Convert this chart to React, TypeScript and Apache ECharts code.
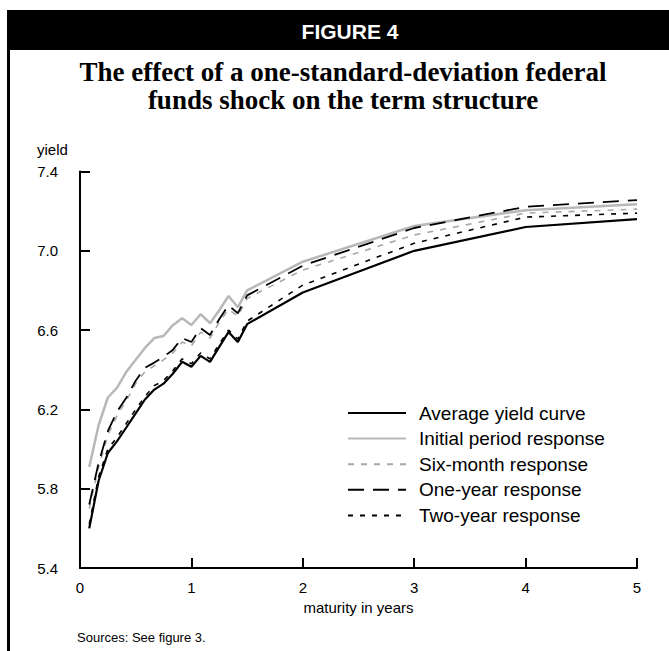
import React, { useEffect, useRef } from "react";
import * as echarts from "echarts";

// maturity in years (monthly to 18 months, then annual)
const maturities = [
  0.083, 0.167, 0.25, 0.333, 0.417, 0.5, 0.583, 0.667, 0.75, 0.833, 0.917, 1.0,
  1.083, 1.167, 1.25, 1.333, 1.417, 1.5, 2, 3, 4, 5,
];

const averageYield = [
  5.6, 5.84, 5.98, 6.04, 6.11, 6.18, 6.25, 6.3, 6.33, 6.38, 6.44, 6.415,
  6.47, 6.44, 6.515, 6.59, 6.54, 6.63, 6.79, 7.0, 7.12, 7.16,
];
const initialResponse = [
  5.91, 6.12, 6.26, 6.31, 6.39, 6.45, 6.51, 6.56, 6.57, 6.625, 6.66, 6.626,
  6.68, 6.635, 6.7, 6.772, 6.715, 6.8, 6.945, 7.125, 7.205, 7.235,
];
const sixMonthResponse = [
  5.7, 5.91, 6.07, 6.17, 6.245, 6.33, 6.39, 6.42, 6.45, 6.485, 6.54, 6.52,
  6.59, 6.56, 6.64, 6.705, 6.67, 6.76, 6.903, 7.08, 7.19, 7.21,
];
const oneYearResponse = [
  5.72, 5.93, 6.09, 6.19, 6.26, 6.345, 6.41, 6.436, 6.466, 6.5, 6.56, 6.54,
  6.61, 6.575, 6.655, 6.725, 6.685, 6.775, 6.925, 7.115, 7.222, 7.256,
];
const twoYearResponse = [
  5.62, 5.86, 6.0, 6.06, 6.13, 6.2, 6.265, 6.32, 6.345, 6.395, 6.455, 6.43,
  6.485, 6.455, 6.53, 6.6, 6.555, 6.645, 6.827, 7.038, 7.17, 7.19,
];

const seriesNames = [
  "Average yield curve",
  "Initial period response",
  "Six-month response",
  "One-year response",
  "Two-year response",
];

const xTickLabels = ["0", "1", "2", "3", "4", "5"];

const SANS = '"Liberation Sans", Arial, Helvetica, sans-serif';
const SERIF = '"Liberation Serif", "Times New Roman", Times, serif';

function pairs(values: number[]) {
  return maturities.map((m, i) => [m, values[i]]);
}

export default function App() {
  const ref = useRef<HTMLDivElement>(null);

  useEffect(() => {
    if (!ref.current) return;
    const chart = echarts.init(ref.current, undefined, { renderer: "svg" });

    const styles = [
      { color: "#000000", width: 2.2, type: "solid" as any },
      { color: "#b8b8b8", width: 2.5, type: "solid" as any },
      { color: "#a8a8a8", width: 1.6, type: [6, 7] as any },
      { color: "#000000", width: 1.8, type: [16, 9] as any },
      { color: "#000000", width: 1.6, type: [5, 7] as any },
    ];
    const dataSets = [
      averageYield,
      initialResponse,
      sixMonthResponse,
      oneYearResponse,
      twoYearResponse,
    ];
    // draw order: put average on top
    const order = [1, 2, 4, 3, 0];

    const series = order.map((i) => ({
      name: seriesNames[i],
      type: "line",
      data: pairs(dataSets[i]),
      symbol: "none",
      showSymbol: false,
      smooth: false,
      color: styles[i].color,
      itemStyle: { color: styles[i].color },
      lineStyle: {
        color: styles[i].color,
        width: styles[i].width,
        type: styles[i].type,
      },
      z: 2 + order.indexOf(i),
    }));

    chart.setOption({
      animation: false,
      backgroundColor: "#ffffff",
      grid: { left: 80, right: 32, top: 171.5, bottom: 83, containLabel: false },
      legend: {
        orient: "vertical",
        left: 347,
        top: 403,
        itemWidth: 58,
        itemHeight: 20,
        itemGap: 5.6,
        padding: 0,
        selectedMode: false,
        itemStyle: { opacity: 0 },
        data: seriesNames.map((n) => ({ name: n })),
        textStyle: {
          fontFamily: SANS,
          fontSize: 19,
          color: "#000",
          lineHeight: 20,
          padding: [0, 0, 0, 8],
        },
      },
      xAxis: {
        type: "value",
        min: 0,
        max: 5,
        interval: 1,
        name: "maturity in years",
        nameLocation: "middle",
        nameGap: 29,
        nameTextStyle: { fontFamily: SANS, fontSize: 15, color: "#000" },
        axisLine: { show: true, lineStyle: { color: "#000", width: 2 } },
        axisTick: { show: true, inside: true, length: 10, lineStyle: { color: "#000", width: 2 } },
        axisLabel: {
          margin: 12,
          fontFamily: SANS,
          fontSize: 15,
          color: "#000",
          formatter: (v: number) => xTickLabels[Math.round(v)] ?? String(v),
        },
        splitLine: { show: false },
      },
      yAxis: {
        type: "value",
        min: 5.4,
        max: 7.4,
        interval: 0.4,
        axisLine: { show: true, lineStyle: { color: "#000", width: 2 } },
        axisTick: { show: true, inside: true, length: 10, lineStyle: { color: "#000", width: 2 } },
        axisLabel: {
          margin: 22,
          fontFamily: SANS,
          fontSize: 15,
          color: "#000",
          formatter: (v: number) => v.toFixed(1),
        },
        splitLine: { show: false },
      },
      graphic: [
        {
          type: "rect",
          silent: true,
          shape: { x: 7, y: 10, width: 662, height: 40 },
          style: { fill: "#000" },
        },
        {
          type: "rect",
          silent: true,
          shape: { x: 7, y: 10, width: 3, height: 641 },
          style: { fill: "#000" },
        },
        {
          type: "text",
          silent: true,
          x: 350,
          y: 31,
          style: {
            text: "FIGURE 4",
            fill: "#fff",
            font: `bold 21px ${SANS}`,
            textAlign: "center",
            textVerticalAlign: "middle",
            align: "center",
            verticalAlign: "middle",
          },
        },
        {
          type: "text",
          silent: true,
          x: 343,
          y: 72,
          style: {
            text: "The effect of a one-standard-deviation federal",
            fill: "#000",
            font: `bold 27px ${SERIF}`,
            textAlign: "center",
            textVerticalAlign: "middle",
            align: "center",
            verticalAlign: "middle",
          },
        },
        {
          type: "text",
          silent: true,
          x: 343,
          y: 100,
          style: {
            text: "funds shock on the term structure",
            fill: "#000",
            font: `bold 27px ${SERIF}`,
            textAlign: "center",
            textVerticalAlign: "middle",
            align: "center",
            verticalAlign: "middle",
          },
        },
        {
          type: "text",
          silent: true,
          x: 37,
          y: 149,
          style: {
            text: "yield",
            fill: "#000",
            font: `15px ${SANS}`,
            textAlign: "left",
            textVerticalAlign: "middle",
            align: "left",
            verticalAlign: "middle",
          },
        },
        {
          type: "text",
          silent: true,
          x: 77,
          y: 637,
          style: {
            text: "Sources: See figure 3.",
            fill: "#000",
            font: `13px ${SANS}`,
            textAlign: "left",
            textVerticalAlign: "middle",
            align: "left",
            verticalAlign: "middle",
          },
        },
      ],
      series,
    });

    return () => {
      chart.dispose();
    };
  }, []);

  return (
    <div
      ref={ref}
      style={{ position: "absolute", left: 0, top: 0, width: 669, height: 651, background: "#fff" }}
    />
  );
}
